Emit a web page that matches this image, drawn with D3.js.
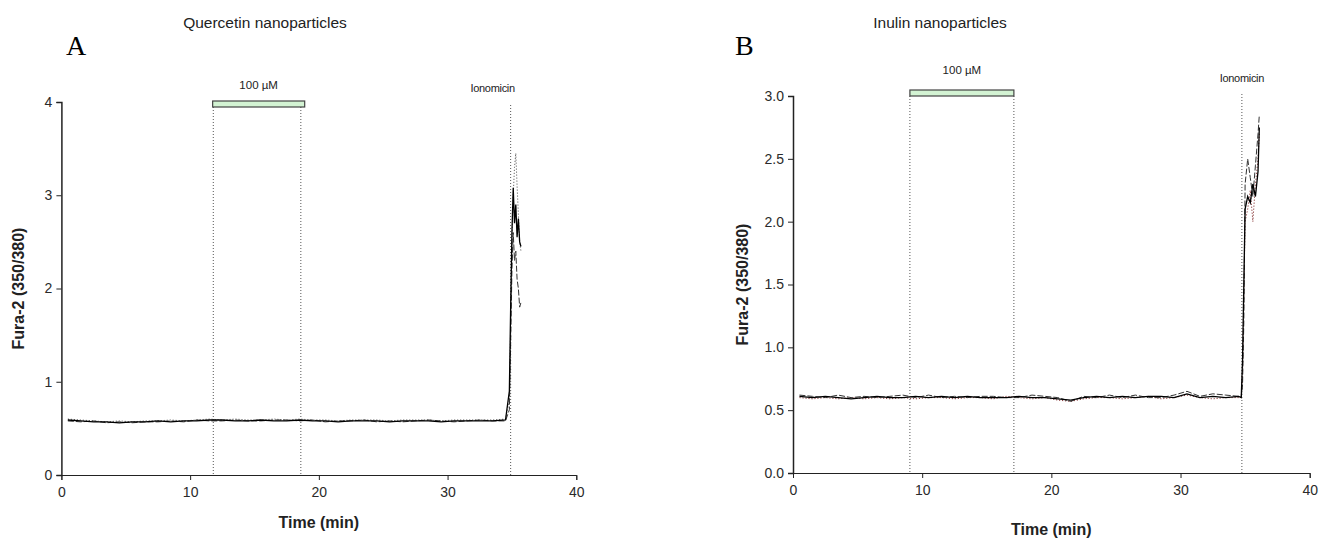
<!DOCTYPE html>
<html>
<head>
<meta charset="utf-8">
<script src="https://cdn.jsdelivr.net/npm/d3@7"></script>
<style>
body { margin: 0; background: #fff; }
text { font-family: "Liberation Sans", Arial, sans-serif; fill: #222; }
.axis text { fill: #2a2a2a; }
.axis path, .axis line { stroke: #222; }
.letter { font-family: "Liberation Serif", "Times New Roman", serif; font-size: 28px; fill: #000; }
</style>
</head>
<body>
<svg id="chart" width="1325" height="541"></svg>
<script>
// ---- data ----
var titles = ["Quercetin nanoparticles", "Inulin nanoparticles"];
var letters = ["A", "B"];
var yTicksA = [0, 1, 2, 3, 4];
var yTicksB = [0, 0.5, 1.0, 1.5, 2.0, 2.5, 3.0];
var xTicks = [0, 10, 20, 30, 40];

// drug bar (start, end) and marker lines, minutes
var barA = [11.75, 18.9];
var linesA = [11.8, 18.6, 34.9];
var barB = [9.05, 17.1];
var linesB = [9.05, 17.1, 34.75];

var timesA = [0.5,1.5,2.5,3.5,4.5,5.5,6.5,7.5,8.5,9.5,10.5,11.5,12.5,13.5,14.5,15.5,16.5,17.5,18.5,19.5,20.5,21.5,22.5,23.5,24.5,25.5,26.5,27.5,28.5,29.5,30.5,31.5,32.5,33.5,34.5,
  34.8,34.9,35.0,35.1,35.2,35.3,35.4,35.5,35.6,35.7];
var traceA1 = [0.59,0.58,0.57,0.57,0.56,0.57,0.57,0.58,0.57,0.58,0.58,0.59,0.59,0.58,0.58,0.59,0.58,0.58,0.59,0.58,0.58,0.57,0.58,0.58,0.58,0.57,0.58,0.58,0.58,0.57,0.58,0.58,0.58,0.58,0.59,
  0.9,1.8,2.6,3.08,2.7,2.9,2.55,2.75,2.5,2.45];
var traceA2 = [0.58,0.57,0.58,0.56,0.57,0.56,0.57,0.57,0.58,0.57,0.59,0.58,0.58,0.59,0.58,0.58,0.59,0.59,0.58,0.59,0.57,0.58,0.58,0.59,0.57,0.58,0.57,0.58,0.59,0.58,0.57,0.58,0.59,0.58,0.58,
  0.7,1.4,2.2,2.6,2.3,2.4,2.1,2.0,1.8,1.85];
var traceA3 = [0.6,0.59,0.58,0.57,0.58,0.57,0.58,0.58,0.59,0.58,0.59,0.6,0.59,0.6,0.59,0.59,0.6,0.59,0.6,0.59,0.59,0.58,0.59,0.59,0.59,0.58,0.59,0.59,0.59,0.58,0.59,0.59,0.59,0.59,0.6,
  0.8,1.6,2.5,3.0,3.3,3.45,3.1,2.8,2.5,2.4];

var timesB = [0.5,1.5,2.5,3.5,4.5,5.5,6.5,7.5,8.5,9.5,10.5,11.5,12.5,13.5,14.5,15.5,16.5,17.5,18.5,19.5,20.5,21.5,22.5,23.5,24.5,25.5,26.5,27.5,28.5,29.5,30.5,31.5,32.5,33.5,34.5,
  34.7,34.8,34.9,35.0,35.2,35.4,35.6,35.8,36.0,36.1];
var traceB1 = [0.61,0.6,0.61,0.6,0.59,0.6,0.61,0.6,0.6,0.61,0.6,0.61,0.6,0.61,0.6,0.6,0.6,0.61,0.6,0.6,0.59,0.58,0.6,0.61,0.6,0.61,0.6,0.61,0.61,0.6,0.63,0.6,0.61,0.6,0.61,
  0.6,0.9,1.5,2.1,2.2,2.15,2.3,2.2,2.4,2.75];
var traceB2 = [0.62,0.61,0.6,0.62,0.6,0.61,0.6,0.61,0.62,0.6,0.62,0.6,0.61,0.6,0.61,0.61,0.6,0.6,0.62,0.61,0.6,0.57,0.61,0.6,0.62,0.6,0.62,0.6,0.6,0.62,0.65,0.61,0.63,0.62,0.61,
  0.6,0.7,1.2,2.3,2.5,2.35,2.2,2.45,2.7,2.85];
var traceB3 = [0.6,0.59,0.6,0.59,0.6,0.59,0.6,0.59,0.6,0.59,0.6,0.6,0.59,0.6,0.6,0.59,0.61,0.6,0.59,0.6,0.58,0.57,0.59,0.6,0.6,0.59,0.6,0.61,0.59,0.6,0.62,0.6,0.59,0.6,0.6,
  0.6,0.8,1.4,2.0,2.1,2.25,2.0,2.3,2.5,2.7];

var svg = d3.select("#chart");

var panels = [
  { title: titles[0], letter: letters[0], x0: 61.4, x1: 576.3, y0: 475, y1: 102, ymax: 4, yTicks: yTicksA, fmt: d3.format("d"),
    bar: barA, barY: 101, lines: linesA, times: timesA, traces: [traceA3, traceA2, traceA1],
    titleX: 265, letterX: 66, ylabX: 24, xlabY: 528, drugY: 89, ionoY: 92, ionoDx: -18 },
  { title: titles[1], letter: letters[1], x0: 793, x1: 1309.7, y0: 473, y1: 96, ymax: 3, yTicks: yTicksB, fmt: d3.format(".1f"),
    bar: barB, barY: 90, lines: linesB, times: timesB, traces: [traceB3, traceB2, traceB1],
    titleX: 940, letterX: 735, ylabX: 748, xlabY: 535, drugY: 74, ionoY: 82, ionoDx: 0 }
];

var traceStyles = [
  { dash: "1.2,1.8", colour: "#8a3a3a", w: 1 },
  { dash: "6,2", colour: "#333", w: 1 },
  { dash: null, colour: "#000", w: 1.3 }
];

panels.forEach(function(p, pi) {
  var x = d3.scaleLinear().domain([0, 40]).range([p.x0, p.x1]);
  var y = d3.scaleLinear().domain([0, p.ymax]).range([p.y0, p.y1]);
  var g = svg.append("g");

  // marker lines
  g.selectAll("line.marker")
    .data(p.lines)
    .enter().append("line")
    .attr("class", "marker")
    .attr("x1", function(d) { return x(d); })
    .attr("x2", function(d) { return x(d); })
    .attr("y1", function(d, i) { return i < 2 ? p.barY + 6 : p.barY + 4; })
    .attr("y2", p.y0)
    .attr("stroke", "#555")
    .attr("stroke-width", 1)
    .attr("stroke-dasharray", "1,2");

  // traces
  var line = d3.line()
    .x(function(d) { return x(d[0]); })
    .y(function(d) { return y(d[1]); });

  p.traces.forEach(function(tr, ti) {
    var st = traceStyles[ti];
    var colour = (pi === 0 && ti === 0) ? "#666" : st.colour;
    g.append("path")
      .datum(p.times.map(function(t, k) { return [t, tr[k]]; }))
      .attr("d", line)
      .attr("fill", "none")
      .attr("stroke", colour)
      .attr("stroke-width", st.w)
      .attr("stroke-dasharray", st.dash);
  });

  // axes
  g.append("g")
    .attr("class", "axis")
    .attr("transform", "translate(" + p.x0 + ",0)")
    .call(d3.axisLeft(y).tickValues(p.yTicks).tickFormat(p.fmt).tickSize(5).tickPadding(4))
    .select(".domain").attr("stroke", "#444").attr("stroke-width", 1.5);

  g.append("g")
    .attr("class", "axis")
    .attr("transform", "translate(0," + p.y0 + ")")
    .call(d3.axisBottom(x).tickValues(xTicks).tickSize(5).tickPadding(7));

  g.selectAll(".axis text").style("font-size", "14px");

  // drug bar
  g.append("rect")
    .attr("x", x(p.bar[0]))
    .attr("y", p.barY)
    .attr("width", x(p.bar[1]) - x(p.bar[0]))
    .attr("height", 6)
    .attr("fill", "#d3f3d3")
    .attr("stroke", "#444")
    .attr("stroke-width", 1.2);

  g.append("text")
    .attr("x", (x(p.bar[0]) + x(p.bar[1])) / 2)
    .attr("y", p.drugY)
    .attr("text-anchor", "middle")
    .style("font-size", "11.5px")
    .text("100 \u00b5M");

  g.append("text")
    .attr("x", x(p.lines[2]) + p.ionoDx)
    .attr("y", p.ionoY)
    .attr("text-anchor", "middle")
    .style("font-size", "11px")
    .style("letter-spacing", "-0.3px")
    .text("Ionomicin");

  // titles
  g.append("text")
    .attr("x", p.titleX)
    .attr("y", 28)
    .attr("text-anchor", "middle")
    .style("font-size", "15.5px")
    .text(p.title);

  g.append("text")
    .attr("class", "letter")
    .attr("x", p.letterX)
    .attr("y", 55)
    .text(p.letter);

  g.append("text")
    .attr("transform", "translate(" + p.ylabX + "," + (p.y0 + p.y1) / 2 + ") rotate(-90)")
    .attr("text-anchor", "middle")
    .style("font-size", "16px")
    .style("font-weight", "bold")
    .text("Fura-2 (350/380)");

  g.append("text")
    .attr("x", (p.x0 + p.x1) / 2)
    .attr("y", p.xlabY)
    .attr("text-anchor", "middle")
    .style("font-size", "16px")
    .style("font-weight", "bold")
    .text("Time (min)");
});
</script>
</body>
</html>
